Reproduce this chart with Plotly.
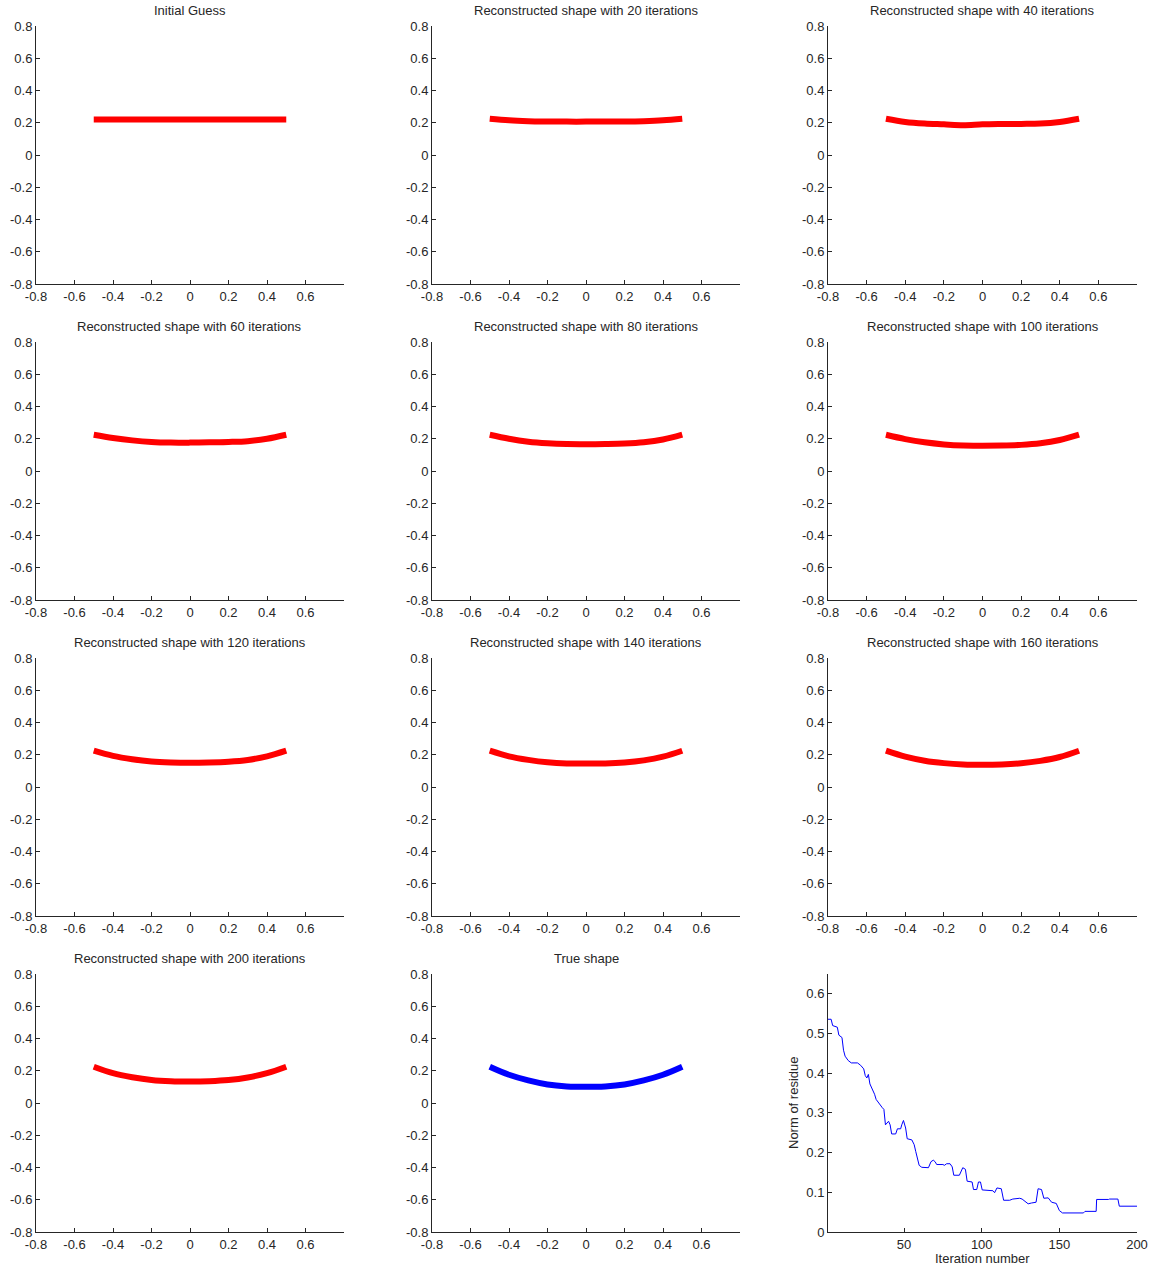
import plotly.graph_objects as go

W, H = 1151, 1268

# ---------------- data ----------------
shape_x = [-0.5, -0.4, -0.3, -0.2, -0.1, 0.0, 0.1, 0.2, 0.3, 0.4, 0.5]

titles = [
    "Initial Guess",
    "Reconstructed shape with 20 iterations",
    "Reconstructed shape with 40 iterations",
    "Reconstructed shape with 60 iterations",
    "Reconstructed shape with 80 iterations",
    "Reconstructed shape with 100 iterations",
    "Reconstructed shape with 120 iterations",
    "Reconstructed shape with 140 iterations",
    "Reconstructed shape with 160 iterations",
    "Reconstructed shape with 200 iterations",
    "True shape",
]

y_initial = [0.22, 0.22, 0.22, 0.22, 0.22, 0.22, 0.22, 0.22, 0.22, 0.22, 0.22]
y_it20 = [0.225, 0.215, 0.21, 0.208, 0.207, 0.207, 0.208, 0.208, 0.21, 0.215, 0.225]
y_it40 = [0.225, 0.205, 0.195, 0.19, 0.185, 0.19, 0.192, 0.193, 0.195, 0.205, 0.225]
y_it60 = [0.225, 0.205, 0.19, 0.18, 0.176, 0.176, 0.178, 0.18, 0.185, 0.2, 0.225]
y_it80 = [0.225, 0.2, 0.182, 0.172, 0.167, 0.166, 0.167, 0.17, 0.178, 0.195, 0.225]
y_it100 = [0.225, 0.198, 0.178, 0.165, 0.158, 0.157, 0.158, 0.162, 0.172, 0.192, 0.225]
y_it120 = [0.225, 0.193, 0.172, 0.158, 0.152, 0.15, 0.152, 0.157, 0.168, 0.19, 0.225]
y_it140 = [0.225, 0.19, 0.168, 0.153, 0.146, 0.145, 0.146, 0.152, 0.165, 0.188, 0.225]
y_it160 = [0.225, 0.188, 0.163, 0.148, 0.14, 0.138, 0.14, 0.147, 0.162, 0.186, 0.225]
y_it200 = [0.225, 0.185, 0.16, 0.143, 0.135, 0.133, 0.135, 0.142, 0.158, 0.185, 0.225]
y_true = [0.225, 0.175, 0.14, 0.115, 0.103, 0.1, 0.103, 0.115, 0.14, 0.175, 0.225]

shape_series = [y_initial, y_it20, y_it40, y_it60, y_it80, y_it100,
                y_it120, y_it140, y_it160, y_it200, y_true]

iterations = [1, 3, 4, 7, 8, 10, 11, 12, 14, 16, 20, 22, 24, 25, 26, 27, 28, 30, 31, 32,
              34, 35, 36, 37, 38, 40, 41, 42, 44.6, 45.7, 47.8, 48.5, 49.6, 51, 52, 55,
              56.5, 57.5, 58.6, 59.7, 61.4, 65.7, 67.3, 68.8, 70, 71, 75, 76, 77.4, 79.6,
              81, 82, 85.6, 86.7, 87.8, 89.5, 90.6, 93.8, 94.7, 96.8, 97.9, 99.2, 100.3,
              107.2, 108.3, 109.8, 112.6, 114.1, 118, 120, 124.5, 126, 128.8, 129.9, 132,
              135, 136.3, 138.5, 140, 142.8, 145, 148, 150, 152, 165.5, 166.5, 173.7, 174,
              181.7, 182.3, 187.7, 188.6, 200]
residue = [0.536, 0.536, 0.52, 0.516, 0.496, 0.49, 0.458, 0.443, 0.432, 0.426, 0.426, 0.42,
           0.411, 0.394, 0.388, 0.397, 0.373, 0.356, 0.347, 0.334,
           0.322, 0.319, 0.313, 0.309, 0.27, 0.279, 0.27, 0.247, 0.247, 0.26, 0.26, 0.27,
           0.281, 0.262, 0.235, 0.232,
           0.22, 0.203, 0.181, 0.168, 0.163, 0.162, 0.177, 0.181, 0.177, 0.17, 0.17, 0.168,
           0.172, 0.172,
           0.164, 0.143, 0.143, 0.151, 0.162, 0.158, 0.128, 0.126, 0.107, 0.107, 0.126,
           0.126, 0.106,
           0.104, 0.099, 0.111, 0.109, 0.08, 0.08, 0.083, 0.085, 0.083, 0.075, 0.071, 0.073,
           0.075, 0.109, 0.107, 0.085, 0.086, 0.075, 0.072, 0.054, 0.048, 0.048, 0.052,
           0.052, 0.082,
           0.082, 0.083, 0.083, 0.065, 0.065]

shape_ticks = [-0.8, -0.6, -0.4, -0.2, 0, 0.2, 0.4, 0.6, 0.8]
shape_ticktext = ["-0.8", "-0.6", "-0.4", "-0.2", "0", "0.2", "0.4", "0.6", "0.8"]
shape_xticks = [-0.8, -0.6, -0.4, -0.2, 0, 0.2, 0.4, 0.6]
shape_xticktext = ["-0.8", "-0.6", "-0.4", "-0.2", "0", "0.2", "0.4", "0.6"]
res_xticks = [50, 100, 150, 200]
res_yticks = [0, 0.1, 0.2, 0.3, 0.4, 0.5, 0.6]
res_yticktext = ["0", "0.1", "0.2", "0.3", "0.4", "0.5", "0.6"]

# ---------------- layout geometry (pixels) ----------------
col_px = [(36, 344), (432, 740), (828, 1137)]
row_px = [(26, 284), (342, 600), (658, 916), (974, 1232)]

FONT = "Liberation Sans, Arial, Helvetica, sans-serif"
FS = 13
TXT = "#262626"
AX = "#262626"

fig = go.Figure()
layout = dict(
    width=W, height=H,
    margin=dict(l=0, r=0, t=0, b=0, autoexpand=False),
    paper_bgcolor="white", plot_bgcolor="white",
    showlegend=False,
    font=dict(family=FONT, size=FS, color=TXT),
    annotations=[],
)

def axis_common():
    return dict(showline=True, linecolor=AX, linewidth=1, mirror=False,
                ticks="inside", ticklen=4, tickcolor=AX, tickwidth=1,
                showgrid=False, zeroline=False, automargin=False,
                tickfont=dict(family=FONT, size=FS, color=TXT))

for i in range(12):
    r, c = divmod(i, 3)
    x0, x1 = col_px[c]
    yt, yb = row_px[r]
    n = i + 1
    xa = "xaxis" if n == 1 else f"xaxis{n}"
    ya = "yaxis" if n == 1 else f"yaxis{n}"
    xr = "x" if n == 1 else f"x{n}"
    yr = "y" if n == 1 else f"y{n}"
    xd = [x0 / W, x1 / W]
    yd = [1 - yb / H, 1 - yt / H]
    if i < 11:
        color = "blue" if i == 10 else "red"
        fig.add_trace(go.Scatter(x=shape_x, y=shape_series[i], mode="lines",
                                 line=dict(color=color, width=6, shape="spline",
                                           smoothing=1),
                                 xaxis=xr, yaxis=yr, hoverinfo="skip"))
        xa_d = axis_common()
        xa_d.update(domain=xd, range=[-0.8, 0.8], tickvals=shape_xticks,
                    ticktext=shape_xticktext, anchor=yr)
        ya_d = axis_common()
        ya_d.update(domain=yd, range=[-0.8, 0.8], tickvals=shape_ticks,
                    ticktext=shape_ticktext, anchor=xr)
        layout[xa] = xa_d
        layout[ya] = ya_d
        layout["annotations"].append(dict(
            text=titles[i], xref="paper", yref="paper",
            x=(x0 + x1) / 2 / W, y=1 - (yt - 6) / H,
            xanchor="center", yanchor="bottom", showarrow=False,
            font=dict(family=FONT, size=FS, color=TXT)))
    else:
        fig.add_trace(go.Scatter(x=iterations, y=residue, mode="lines",
                                 line=dict(color="blue", width=1),
                                 xaxis=xr, yaxis=yr, hoverinfo="skip"))
        xa_d = axis_common()
        xa_d.update(domain=xd, range=[1, 200], tickvals=res_xticks, anchor=yr)
        ya_d = axis_common()
        ya_d.update(domain=yd, range=[0, 0.65], tickvals=res_yticks,
                    ticktext=res_yticktext, anchor=xr)
        layout[xa] = xa_d
        layout[ya] = ya_d
        layout["annotations"].append(dict(
            text="Iteration number", xref="paper", yref="paper",
            x=(x0 + x1) / 2 / W, y=0,
            xanchor="center", yanchor="bottom", showarrow=False,
            font=dict(family=FONT, size=FS, color=TXT)))
        layout["annotations"].append(dict(
            text="Norm of residue", xref="paper", yref="paper",
            x=793 / W, y=1 - (yt + yb) / 2 / H, textangle=-90,
            xanchor="center", yanchor="middle", showarrow=False,
            font=dict(family=FONT, size=FS, color=TXT)))

fig.update_layout(**layout)
fig.write_html("out.html", config={"displayModeBar": False},
               post_script="document.body.style.margin='0px';document.body.style.overflow='hidden';")
